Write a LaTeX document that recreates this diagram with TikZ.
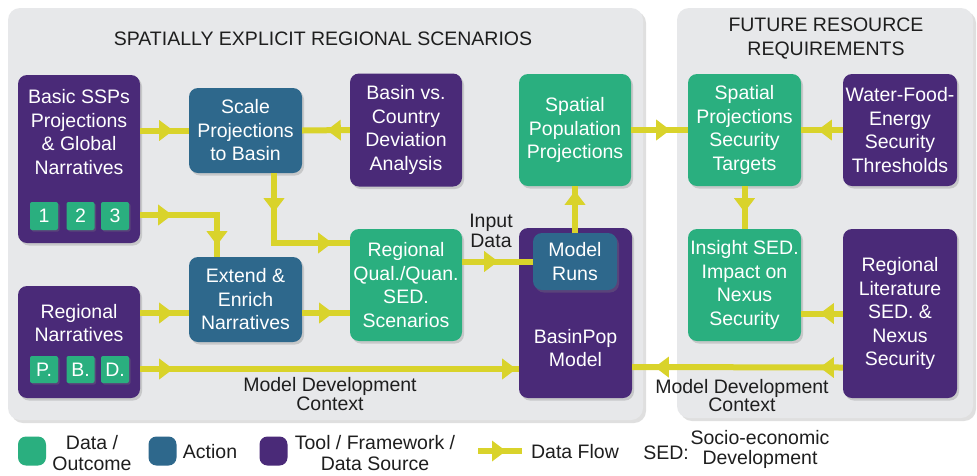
\documentclass[tikz,border=0pt]{standalone}
\usepackage{fontspec}
\setmainfont{Liberation Sans}
\usetikzlibrary{arrows.meta,decorations.markings,shadows}
\definecolor{purp}{HTML}{4A2A78}
\definecolor{bluec}{HTML}{2E688C}
\definecolor{greenc}{HTML}{2AAF7F}
\definecolor{flowc}{HTML}{D9D32B}
\definecolor{panelc}{HTML}{E7E8EA}
\definecolor{inkc}{HTML}{1E1E1E}
\newcommand\bxfont{\fontsize{19.5}{23.5}\selectfont}
\newcommand\lgfont{\fontsize{19.5}{21}\selectfont}
\tikzset{
  flowtip/.tip={Triangle[length=14pt,width=20pt]},
  box/.style={rounded corners=9pt, inner sep=0pt, text=white, align=center, font=\bxfont,
    drop shadow={shadow xshift=2pt,shadow yshift=-2.5pt,opacity=0.3}},
  purbox/.style={box, fill=purp},
  bluebox/.style={box, fill=bluec},
  greenbox/.style={box, fill=greenc},
  tiny/.style={rounded corners=2pt, fill=greenc, inner sep=0pt, text=white, font=\bxfont,
    minimum width=28pt, minimum height=28pt,
    drop shadow={shadow xshift=1.5pt,shadow yshift=-1.5pt,opacity=0.3}},
  lbl/.style={text=white, align=center, font=\bxfont, inner sep=0pt},
  txt/.style={text=inkc, align=center, font=\bxfont, inner sep=0pt},
  flow/.style={draw=flowc, line width=6pt},
  tipA/.style={postaction={decorate, decoration={markings,
      mark=at position #1 with {\arrow[flowc]{flowtip}}}}},
  panel/.style={fill=panelc, rounded corners=12pt,
    drop shadow={shadow xshift=3pt,shadow yshift=-3pt,opacity=0.25}},
}
\begin{document}
\begin{tikzpicture}[x=1pt,y=-1pt]
\fill[white] (0,0) rectangle (977,475);
\useasboundingbox (0,0) rectangle (977,475);

% panels
\path[panel] (8,8) rectangle (643,420);
\path[panel] (677,8) rectangle (973,418);
\node[txt] (t1) at (323,39) {SPATIALLY EXPLICIT REGIONAL SCENARIOS};
\node[txt, font=\fontsize{19.5}{24}\selectfont] (t2) at (826,39) {FUTURE RESOURCE\\REQUIREMENTS};

% boxes
\node[purbox, minimum width=122pt, minimum height=168pt] (ssp) at (79,159) {};
\node[lbl] (sspT) at (79,132) {Basic SSPs\\Projections\\\& Global\\Narratives};
\node[tiny] (s1) at (44,216) {1};
\node[tiny] (s2) at (80.5,216) {2};
\node[tiny] (s3) at (115,216) {3};

\node[bluebox, minimum width=113pt, minimum height=85pt] (scale) at (245.5,130.5) {Scale\\Projections\\to Basin};
\node[purbox, minimum width=112pt, minimum height=113pt] (bvc) at (406,130) {Basin vs.\\Country\\Deviation\\Analysis};
\node[greenbox, minimum width=112pt, minimum height=112pt] (spp) at (575,130) {Spatial\\Population\\Projections};

\node[bluebox, minimum width=113pt, minimum height=85pt] (extend) at (245.5,299.5) {Extend \&\\Enrich\\Narratives};
\node[purbox, minimum width=122pt, minimum height=112pt] (rn) at (79,342) {};
\node[lbl] (rnT) at (79,323) {Regional\\Narratives};
\node[tiny, minimum height=27pt] (sP) at (44,369.5) {P.};
\node[tiny, minimum height=27pt] (sB) at (80.5,369.5) {B.};
\node[tiny, minimum height=27pt] (sD) at (115,369.5) {D.};

\node[greenbox, minimum width=112pt, minimum height=112pt] (rqq) at (406,285) {Regional\\Qual./Quan.\\SED.\\Scenarios};
\node[purbox, minimum width=113pt, minimum height=170pt] (bp) at (575.5,313) {};
\node[lbl] (bpT) at (575.5,348) {BasinPop\\Model};
\node[bluebox, minimum width=84pt, minimum height=57pt] (mr) at (575,261.5) {Model\\Runs};

\node[greenbox, minimum width=113pt, minimum height=112pt] (spst) at (744.5,130) {Spatial\\Projections\\Security\\Targets};
\node[purbox, minimum width=114pt, minimum height=112pt] (wfe) at (900,130) {Water-Food-\\Energy\\Security\\Thresholds};
\node[greenbox, minimum width=113pt, minimum height=112pt] (insight) at (744.5,285) {Insight SED.\\Impact on\\Nexus\\Security};
\node[purbox, minimum width=114pt, minimum height=169pt] (rl) at (900,313.5) {Regional\\Literature\\SED. \&\\Nexus\\Security};

% flows
\draw[flow, tipA=33pt] ([yshift=28.5pt]ssp.east) -- (scale.west);
\draw[flow, tipA=23pt] (bvc.west) -- (scale.east);
\draw[flow, tipA=39pt, tipA=128pt] ([xshift=28.5pt]scale.south) |- ([yshift=42pt]rqq.west);
\draw[flow, tipA=32pt, tipA=107pt] ([yshift=-56pt]ssp.east) -| ([xshift=-28.5pt]extend.north);
\draw[flow, tipA=33pt] ([yshift=29pt]rn.east) -- ([yshift=-13.5pt]extend.west);
\draw[flow, tipA=31pt] ([yshift=-13.5pt]extend.east) -- ([yshift=-28pt]rqq.west);
\draw[flow, tipA=33pt, tipA=376pt] ([yshift=-27pt]rn.east) -- ([yshift=-56pt]bp.west);
\draw[flow, tipA=36pt] ([yshift=23.5pt]rqq.east) -- (mr.west);
\draw[flow, tipA=42pt] (mr.north) -- (spp.south);
\draw[flow, tipA=39pt] (spp.east) -- (spst.west);
\draw[flow, tipA=25pt] (wfe.west) -- (spst.east);
\draw[flow, tipA=26pt] (spst.south) -- (insight.north);
\draw[flow, tipA=23pt] (rl.west) -- (rl.west -| insight.east);
\draw[flow, tipA=23pt, tipA=188pt] ([yshift=-54pt]rl.west) -- ([yshift=-54pt]bp.east);

% labels
\node[txt, font=\fontsize{19.5}{19.5}\selectfont] (inp) at (491,231) {Input\\Data};
\node[txt, font=\fontsize{19.5}{19.5}\selectfont] (mdc1) at (330,394) {Model Development\\Context};
\node[txt, font=\fontsize{19.5}{18}\selectfont] (mdc2) at (742,396) {Model Development\\Context};

% legend
\node[rounded corners=8pt, fill=greenc, minimum width=28pt, minimum height=29pt, inner sep=0pt] (lg) at (32,451) {};
\node[txt, font=\lgfont] (lgT) at (92,453) {Data /\\Outcome};
\node[rounded corners=8pt, fill=bluec, minimum width=28pt, minimum height=29pt, inner sep=0pt] (lb) at (162.5,451) {};
\node[txt, font=\lgfont] (lbT) at (210,452) {Action};
\node[rounded corners=8pt, fill=purp, minimum width=28pt, minimum height=29pt, inner sep=0pt] (lp) at (273.5,451) {};
\node[txt, font=\lgfont] (lpT) at (375,453) {Tool / Framework /\\Data Source};
\coordinate (la1) at (478,451);
\coordinate (la2) at (522,451);
\draw[flow, tipA=28pt] (la1) -- (la2);
\node[txt, font=\lgfont] (lfT) at (575,452) {Data Flow};
\node[txt, font=\lgfont] (sedT) at (666,453) {SED:};
\node[txt, font=\fontsize{19.5}{20}\selectfont] (sedD) at (760,449) {Socio-economic\\Development};
\end{tikzpicture}
\end{document}
